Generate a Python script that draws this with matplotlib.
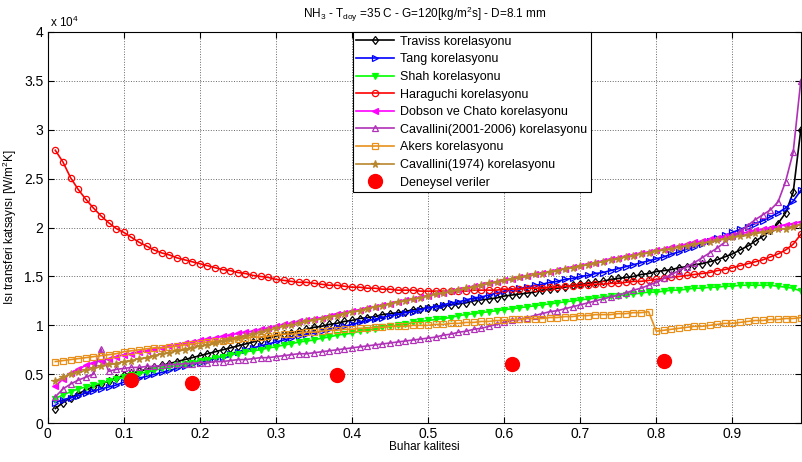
import numpy as np
import matplotlib
matplotlib.use("Agg")
import matplotlib.pyplot as plt

plt.rcParams["font.family"] = ["Liberation Sans", "DejaVu Sans"]
plt.rcParams["mathtext.fontset"] = "custom"
plt.rcParams["mathtext.rm"] = "Liberation Sans"
plt.rcParams["mathtext.it"] = "Liberation Sans"

# Buhar kalitesi 0.01 ... 0.99
x = np.round(np.arange(1, 100) * 0.01, 2)

# Isi transferi katsayisi, x 10^4 W/m2K
traviss = [0.15, 0.21, 0.26, 0.30, 0.34, 0.37, 0.40, 0.43, 0.46, 0.49,
           0.51, 0.53, 0.55, 0.57, 0.59, 0.61, 0.63, 0.65, 0.67, 0.69,
           0.71, 0.73, 0.75, 0.77, 0.79, 0.81, 0.83, 0.85, 0.87, 0.89,
           0.91, 0.92, 0.94, 0.96, 0.98, 0.99, 1.01, 1.02, 1.04, 1.05,
           1.07, 1.08, 1.09, 1.11, 1.12, 1.13, 1.14, 1.16, 1.17, 1.18,
           1.19, 1.20, 1.21, 1.22, 1.23, 1.25, 1.26, 1.27, 1.28, 1.30,
           1.31, 1.32, 1.33, 1.34, 1.36, 1.37, 1.38, 1.39, 1.41, 1.42,
           1.43, 1.44, 1.45, 1.47, 1.48, 1.49, 1.50, 1.52, 1.53, 1.55,
           1.56, 1.57, 1.59, 1.60, 1.62, 1.63, 1.65, 1.67, 1.70, 1.73,
           1.77, 1.81, 1.86, 1.91, 1.97, 2.04, 2.15, 2.36, 3.00]
tang = [0.21, 0.24, 0.26, 0.28, 0.31, 0.33, 0.35, 0.37, 0.39, 0.42,
        0.44, 0.46, 0.48, 0.50, 0.52, 0.54, 0.56, 0.58, 0.60, 0.62,
        0.64, 0.66, 0.68, 0.71, 0.73, 0.75, 0.77, 0.79, 0.81, 0.83,
        0.85, 0.87, 0.89, 0.91, 0.92, 0.94, 0.96, 0.98, 0.99, 1.01,
        1.03, 1.05, 1.06, 1.08, 1.10, 1.11, 1.13, 1.14, 1.16, 1.18,
        1.19, 1.21, 1.23, 1.24, 1.26, 1.28, 1.29, 1.31, 1.33, 1.35,
        1.36, 1.38, 1.39, 1.41, 1.42, 1.44, 1.45, 1.47, 1.48, 1.50,
        1.51, 1.53, 1.54, 1.56, 1.58, 1.60, 1.62, 1.64, 1.66, 1.68,
        1.70, 1.73, 1.75, 1.78, 1.80, 1.83, 1.86, 1.89, 1.92, 1.95,
        1.98, 2.01, 2.04, 2.07, 2.11, 2.15, 2.20, 2.27, 2.38]
shah = [0.25, 0.29, 0.32, 0.35, 0.37, 0.39, 0.41, 0.43, 0.45, 0.47,
        0.49, 0.51, 0.52, 0.54, 0.56, 0.57, 0.59, 0.60, 0.62, 0.64,
        0.65, 0.67, 0.68, 0.70, 0.71, 0.73, 0.74, 0.75, 0.77, 0.78,
        0.80, 0.81, 0.83, 0.84, 0.85, 0.87, 0.88, 0.90, 0.91, 0.92,
        0.94, 0.95, 0.96, 0.98, 0.99, 1.00, 1.01, 1.03, 1.04, 1.05,
        1.06, 1.07, 1.08, 1.10, 1.11, 1.12, 1.13, 1.14, 1.15, 1.16,
        1.17, 1.18, 1.19, 1.20, 1.21, 1.22, 1.23, 1.24, 1.25, 1.26,
        1.27, 1.28, 1.29, 1.30, 1.30, 1.31, 1.32, 1.33, 1.34, 1.34,
        1.35, 1.36, 1.36, 1.37, 1.38, 1.38, 1.39, 1.39, 1.40, 1.40,
        1.41, 1.41, 1.41, 1.41, 1.41, 1.40, 1.39, 1.38, 1.35]
haraguchi = [2.79, 2.67, 2.51, 2.39, 2.29, 2.20, 2.12, 2.05, 1.99, 1.95,
             1.90, 1.85, 1.81, 1.77, 1.74, 1.72, 1.69, 1.67, 1.65, 1.63,
             1.61, 1.59, 1.57, 1.56, 1.54, 1.53, 1.51, 1.50, 1.49, 1.47,
             1.46, 1.45, 1.44, 1.44, 1.43, 1.42, 1.41, 1.41, 1.40, 1.39,
             1.39, 1.38, 1.38, 1.37, 1.37, 1.36, 1.36, 1.36, 1.35, 1.35,
             1.35, 1.35, 1.35, 1.35, 1.35, 1.36, 1.36, 1.36, 1.36, 1.37,
             1.37, 1.37, 1.38, 1.38, 1.38, 1.39, 1.39, 1.40, 1.40, 1.41,
             1.41, 1.42, 1.42, 1.43, 1.43, 1.44, 1.45, 1.45, 1.46, 1.47,
             1.48, 1.49, 1.50, 1.51, 1.52, 1.53, 1.54, 1.56, 1.57, 1.59,
             1.61, 1.63, 1.65, 1.67, 1.70, 1.73, 1.77, 1.83, 1.93]
dobson = [0.38, 0.45, 0.51, 0.55, 0.59, 0.62, 0.64, 0.66, 0.68, 0.70,
          0.71, 0.73, 0.74, 0.76, 0.77, 0.79, 0.80, 0.82, 0.83, 0.85,
          0.86, 0.87, 0.89, 0.90, 0.92, 0.93, 0.94, 0.96, 0.97, 0.99,
          1.01, 1.02, 1.04, 1.05, 1.07, 1.08, 1.10, 1.12, 1.13, 1.15,
          1.16, 1.18, 1.19, 1.21, 1.22, 1.24, 1.26, 1.27, 1.29, 1.30,
          1.32, 1.33, 1.35, 1.36, 1.38, 1.40, 1.41, 1.43, 1.44, 1.46,
          1.47, 1.49, 1.50, 1.52, 1.54, 1.55, 1.57, 1.58, 1.60, 1.61,
          1.63, 1.64, 1.66, 1.68, 1.69, 1.71, 1.72, 1.74, 1.75, 1.77,
          1.78, 1.80, 1.81, 1.83, 1.85, 1.86, 1.88, 1.89, 1.91, 1.92,
          1.94, 1.95, 1.97, 1.98, 2.00, 2.01, 2.03, 2.04, 2.06]
cavallini2001 = [0.27, 0.35, 0.40, 0.44, 0.47, 0.50, 0.76, 0.53, 0.55, 0.56,
                 0.57, 0.57, 0.58, 0.58, 0.59, 0.60, 0.60, 0.61, 0.61, 0.62,
                 0.62, 0.63, 0.63, 0.64, 0.65, 0.65, 0.66, 0.67, 0.67, 0.68,
                 0.69, 0.70, 0.71, 0.71, 0.72, 0.73, 0.74, 0.75, 0.76, 0.77,
                 0.78, 0.79, 0.80, 0.81, 0.82, 0.83, 0.84, 0.85, 0.86, 0.87,
                 0.88, 0.90, 0.91, 0.93, 0.94, 0.96, 0.97, 0.99, 1.01, 1.03,
                 1.05, 1.06, 1.08, 1.10, 1.12, 1.14, 1.15, 1.17, 1.19, 1.21,
                 1.23, 1.25, 1.27, 1.29, 1.31, 1.33, 1.36, 1.38, 1.41, 1.44,
                 1.48, 1.52, 1.56, 1.60, 1.64, 1.69, 1.74, 1.79, 1.85, 1.91,
                 1.96, 2.02, 2.08, 2.13, 2.18, 2.26, 2.47, 2.77, 3.50]
akers = [0.63, 0.64, 0.65, 0.66, 0.67, 0.68, 0.69, 0.70, 0.71, 0.73,
         0.74, 0.75, 0.76, 0.77, 0.77, 0.78, 0.79, 0.80, 0.81, 0.82,
         0.83, 0.84, 0.84, 0.85, 0.86, 0.87, 0.88, 0.88, 0.89, 0.90,
         0.91, 0.91, 0.92, 0.93, 0.93, 0.94, 0.95, 0.95, 0.96, 0.96,
         0.97, 0.97, 0.98, 0.98, 0.99, 0.99, 0.99, 1.00, 1.00, 1.00,
         1.01, 1.01, 1.02, 1.02, 1.03, 1.03, 1.04, 1.04, 1.05, 1.05,
         1.06, 1.06, 1.07, 1.07, 1.07, 1.08, 1.08, 1.09, 1.09, 1.10,
         1.10, 1.11, 1.11, 1.11, 1.12, 1.12, 1.13, 1.13, 1.14, 0.94,
         0.95, 0.96, 0.97, 0.98, 0.99, 0.99, 1.00, 1.01, 1.02, 1.02,
         1.03, 1.04, 1.05, 1.05, 1.06, 1.06, 1.07, 1.07, 1.08]
cavallini1974 = [0.43, 0.47, 0.50, 0.52, 0.54, 0.56, 0.58, 0.60, 0.61, 0.63,
                 0.64, 0.66, 0.67, 0.69, 0.71, 0.72, 0.74, 0.75, 0.77, 0.79,
                 0.80, 0.82, 0.84, 0.86, 0.87, 0.89, 0.91, 0.93, 0.95, 0.97,
                 0.99, 1.00, 1.02, 1.04, 1.05, 1.07, 1.09, 1.10, 1.12, 1.14,
                 1.15, 1.17, 1.19, 1.20, 1.22, 1.24, 1.25, 1.27, 1.28, 1.30,
                 1.32, 1.33, 1.35, 1.36, 1.38, 1.39, 1.41, 1.43, 1.44, 1.46,
                 1.47, 1.49, 1.50, 1.52, 1.53, 1.55, 1.56, 1.58, 1.59, 1.61,
                 1.62, 1.64, 1.65, 1.67, 1.68, 1.70, 1.71, 1.73, 1.74, 1.76,
                 1.77, 1.78, 1.80, 1.81, 1.83, 1.84, 1.85, 1.87, 1.88, 1.90,
                 1.91, 1.92, 1.94, 1.95, 1.96, 1.98, 1.99, 2.01, 2.03]

# Deneysel veriler
exp_x = [0.11, 0.19, 0.38, 0.61, 0.81]
exp_y = [0.44, 0.41, 0.49, 0.60, 0.64]

fig = plt.figure(figsize=(8.02, 4.62), dpi=100)
ax = fig.add_axes([0.0595, 0.084, 0.939, 0.847])

series = [
    (traviss, "Traviss korelasyonu", "k", "d", "none"),
    (tang, "Tang korelasyonu", "#0000ff", ">", "none"),
    (shah, "Shah korelasyonu", "#00ff00", "v", "#00ff00"),
    (haraguchi, "Haraguchi korelasyonu", "#ff0000", "o", "none"),
    (dobson, "Dobson ve Chato korelasyonu", "#ff00ff", "<", "#ff00ff"),
    (cavallini2001, "Cavallini(2001-2006) korelasyonu", "#b030b8", "^", "none"),
    (akers, "Akers korelasyonu", "#e8901a", "s", "none"),
    (cavallini1974, "Cavallini(1974) korelasyonu", "#b8862c", "*", "#b8862c"),
]
for vals, lab, col, mk, fc in series:
    ax.plot(x, vals, color=col, lw=1.2, marker=mk, ms=4.5 if mk != "*" else 5.5,
            mfc=fc, mec=col, mew=0.9, label=lab)
ax.plot(exp_x, exp_y, "o", color="#ff0000", ms=10, label="Deneysel veriler")

ax.set_xlim(0, 0.99)
ax.set_ylim(0, 4)
ax.set_xticks(np.arange(0, 1.0, 0.1))
ax.set_xticklabels(["0", "0.1", "0.2", "0.3", "0.4", "0.5", "0.6", "0.7", "0.8", "0.9"])
ax.set_yticks(np.arange(0, 4.01, 0.5))
ax.set_yticklabels(["0", "0.5", "1", "1.5", "2", "2.5", "3", "3.5", "4"])
ax.tick_params(direction="in", top=True, right=True, labelsize=10, length=4, pad=3)
ax.grid(True, color="k", ls=":", lw=0.7, alpha=0.6)
for s in ax.spines.values():
    s.set_linewidth(0.8)

ax.text(0.003, 1.005, r"x 10$^4$", transform=ax.transAxes, fontsize=8.5, va="bottom")
ax.set_title(r"NH$_3$ - T$_{doy}$ =35 C - G=120[kg/m$^2$s] - D=8.1 mm", fontsize=8.5, pad=10)
ax.set_xlabel("Buhar kalitesi", fontsize=8.5, labelpad=0)
ax.set_ylabel("Isı transferi katsayısı [W/m$^2$K]", fontsize=8.5, labelpad=4)

leg = ax.legend(loc="upper left", bbox_to_anchor=(0.405, 1.0), fontsize=9,
                frameon=True, fancybox=False, edgecolor="k", framealpha=1,
                borderpad=0.3, labelspacing=0.45, handlelength=3.0,
                handletextpad=0.5, borderaxespad=0)
leg.get_frame().set_linewidth(0.8)

fig.savefig("out.png", dpi=100)
